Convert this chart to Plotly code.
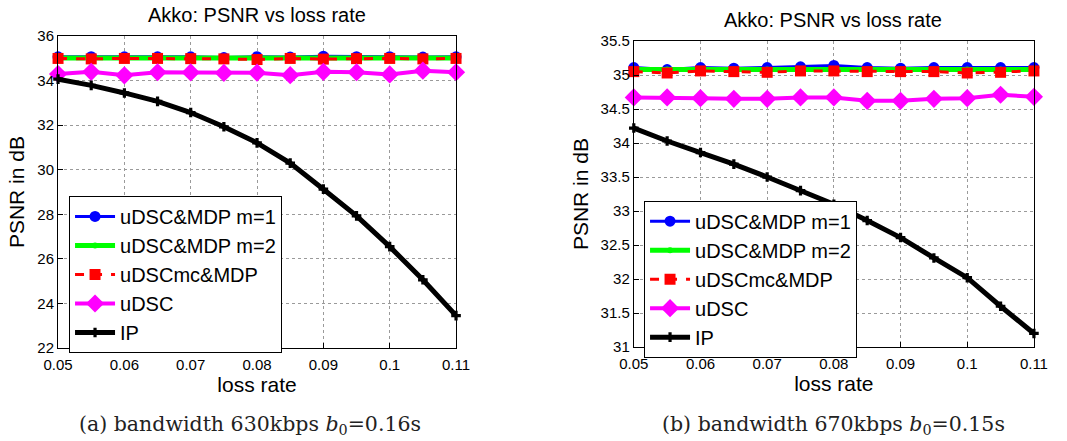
import plotly.graph_objects as go

loss_rate = [0.05, 0.055, 0.06, 0.065, 0.07, 0.075, 0.08, 0.085, 0.09, 0.095, 0.10, 0.105, 0.11]
series_names = ["uDSC&MDP m=1", "uDSC&MDP m=2", "uDSCmc&MDP", "uDSC", "IP"]

# Panel (a): bandwidth 630kbps
a_m1 = [35.07, 35.08, 35.07, 35.07, 35.07, 35.04, 35.08, 35.06, 35.10, 35.08, 35.08, 35.06, 35.07]
a_m2 = [35.02, 35.02, 35.02, 35.02, 35.02, 35.02, 35.02, 35.02, 35.02, 35.02, 35.02, 35.02, 35.02]
a_mc = [35.00, 34.98, 35.00, 35.00, 34.99, 34.98, 34.95, 35.00, 34.97, 34.99, 35.00, 34.98, 35.00]
a_udsc = [34.30, 34.40, 34.24, 34.38, 34.37, 34.35, 34.36, 34.25, 34.40, 34.38, 34.28, 34.45, 34.38]
a_ip = [34.07, 33.79, 33.45, 33.07, 32.57, 31.93, 31.21, 30.30, 29.13, 27.93, 26.55, 25.06, 23.45]

# Panel (b): bandwidth 670kbps
b_m1 = [35.11, 35.08, 35.11, 35.10, 35.11, 35.12, 35.14, 35.11, 35.10, 35.11, 35.11, 35.11, 35.11]
b_m2 = [35.08, 35.08, 35.08, 35.08, 35.08, 35.09, 35.09, 35.08, 35.08, 35.08, 35.08, 35.08, 35.08]
b_mc = [35.05, 35.03, 35.06, 35.05, 35.04, 35.06, 35.06, 35.05, 35.05, 35.05, 35.03, 35.04, 35.06]
b_udsc = [34.67, 34.67, 34.66, 34.65, 34.65, 34.67, 34.67, 34.62, 34.62, 34.65, 34.66, 34.71, 34.68]
b_ip = [34.22, 34.03, 33.86, 33.69, 33.50, 33.30, 33.10, 32.86, 32.61, 32.31, 32.02, 31.60, 31.20]

x_ticks = [0.05, 0.06, 0.07, 0.08, 0.09, 0.10, 0.11]
x_ticklabels = ["0.05", "0.06", "0.07", "0.08", "0.09", "0.1", "0.11"]
a_yticks = [22, 24, 26, 28, 30, 32, 34, 36]
b_yticks = [31, 31.5, 32, 32.5, 33, 33.5, 34, 34.5, 35, 35.5]

titles = ["Akko: PSNR vs loss rate", "Akko: PSNR vs loss rate"]
captions = ["(a) bandwidth 630kbps <i>b</i><sub>0</sub>=0.16s",
            "(b) bandwidth 670kbps <i>b</i><sub>0</sub>=0.15s"]

styles = [
    dict(line=dict(color="#0000ff", width=3), marker=dict(symbol="circle", size=11, color="#0000ff")),
    dict(line=dict(color="#00ff00", width=5), marker=dict(symbol="circle", size=6, color="#00ff00")),
    dict(line=dict(color="#ff0000", width=3, dash="dash"), marker=dict(symbol="square", size=11, color="#ff0000")),
    dict(line=dict(color="#ff00ff", width=4), marker=dict(symbol="diamond", size=14, color="#ff00ff")),
    dict(line=dict(color="#000000", width=5), marker=dict(symbol="cross", size=8, color="#000000")),
]

fig = go.Figure()

panels = [
    ("x", "y", "legend", [a_m1, a_m2, a_mc, a_udsc, a_ip]),
    ("x2", "y2", "legend2", [b_m1, b_m2, b_mc, b_udsc, b_ip]),
]
for xa, ya, lg, data in panels:
    for name, vals, st in zip(series_names, data, styles):
        fig.add_trace(go.Scatter(x=loss_rate, y=vals, name=name, mode="lines+markers",
                                 xaxis=xa, yaxis=ya, legend=lg, cliponaxis=False, **st))

font_sans = "Liberation Sans, Arial, sans-serif"
axis_common = dict(showline=True, linecolor="black", linewidth=1, mirror=True,
                   ticks="inside", ticklen=5, tickcolor="black", automargin=False,
                   showgrid=True, gridcolor="#9a9a9a", griddash="dot", gridwidth=1,
                   zeroline=False, tickfont=dict(family=font_sans, size=15, color="black"))

xt = dict(text="loss rate", font=dict(size=21), standoff=4)
yt = dict(text="PSNR in dB", font=dict(size=21), standoff=6)

fig.update_layout(
    width=1067, height=441,
    margin=dict(l=0, r=0, t=0, b=0, autoexpand=False),
    paper_bgcolor="white", plot_bgcolor="white",
    font=dict(family=font_sans, color="black"),
    showlegend=True,
    xaxis=dict(domain=[0.0544, 0.4274], range=[0.05, 0.11], tickvals=x_ticks, ticktext=x_ticklabels,
               title=xt, anchor="y", ticklabelstandoff=3, **axis_common),
    yaxis=dict(domain=[0.211, 0.918], range=[22, 36], tickvals=a_yticks,
               title=yt, anchor="x", **axis_common),
    xaxis2=dict(domain=[0.594, 0.969], range=[0.05, 0.11], tickvals=x_ticks, ticktext=x_ticklabels,
                title=xt, anchor="y2", ticklabelstandoff=3, **axis_common),
    yaxis2=dict(domain=[0.213, 0.907], range=[31, 35.5], tickvals=b_yticks,
                title=yt, anchor="x2", **axis_common),
    legend=dict(x=0.0647, y=0.5556, xanchor="left", yanchor="top", bgcolor="white",
                bordercolor="black", borderwidth=1, font=dict(size=20, family=font_sans),
                tracegroupgap=0, itemwidth=40),
    legend2=dict(x=0.6036, y=0.545, xanchor="left", yanchor="top", bgcolor="white",
                 bordercolor="black", borderwidth=1, font=dict(size=20, family=font_sans),
                 tracegroupgap=0, itemwidth=40),
)

annotations = []
for cx, ty, t in [(0.2409, 0.966, titles[0]), (0.7807, 0.955, titles[1])]:
    annotations.append(dict(text=t, x=cx, y=ty, xref="paper", yref="paper", showarrow=False,
                            xanchor="center", yanchor="middle", font=dict(size=20, family=font_sans)))
for cx, t in [(0.2343, captions[0]), (0.7807, captions[1])]:
    annotations.append(dict(text=t, x=cx, y=0.037, xref="paper", yref="paper", showarrow=False,
                            xanchor="center", yanchor="middle",
                            font=dict(size=20.5, family="DejaVu Serif, Liberation Serif, serif", color="#222222")))
fig.update_layout(annotations=annotations)

fig.write_html("out.html")
